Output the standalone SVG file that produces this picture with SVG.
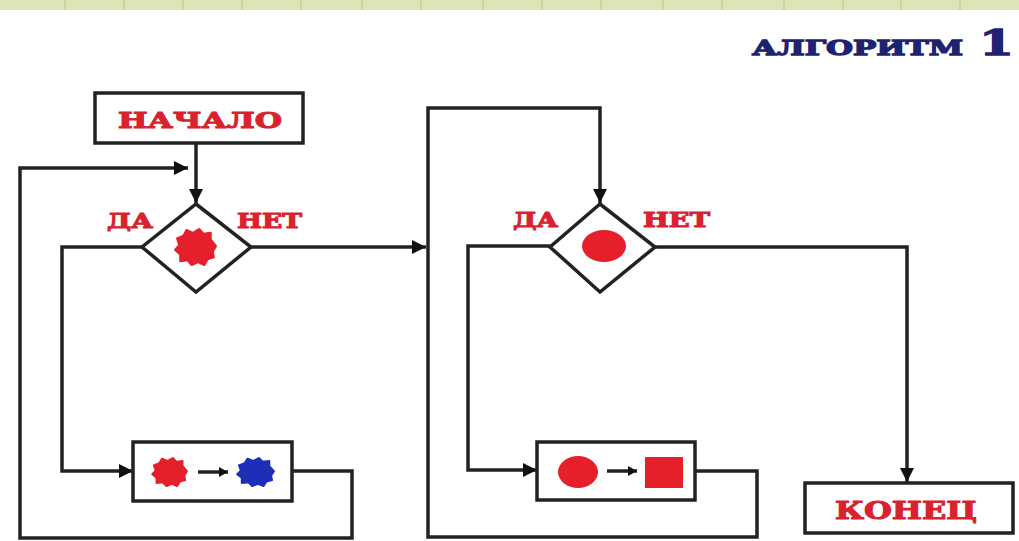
<svg xmlns="http://www.w3.org/2000/svg" width="1019" height="541" viewBox="0 0 1019 541">
<style>
.box{fill:#fff;stroke:#222;stroke-width:3.5}
.dia{fill:#fff;stroke:#222;stroke-width:3.5;stroke-linejoin:miter}
.ln{fill:none;stroke:#222;stroke-width:3.5;stroke-linejoin:miter}
.lbl{font-family:"DejaVu Serif","Liberation Serif",serif;font-weight:bold;fill:#d8232f;stroke:#d8232f;stroke-width:1.1}
.ttl{font-family:"DejaVu Serif","Liberation Serif",serif;font-weight:bold;fill:#1e2270;stroke:#1e2270;stroke-width:1.3}
.red{fill:#e5202a}
.blue{fill:#1d2fb8}
</style>
<defs>
<marker id="ah" markerUnits="userSpaceOnUse" markerWidth="16" markerHeight="16" refX="14" refY="7" orient="auto">
<path d="M0,0 L14,7 L0,14 z" fill="#111"/>
</marker>
<marker id="ahs" markerUnits="userSpaceOnUse" markerWidth="12" markerHeight="12" refX="9" refY="5" orient="auto">
<path d="M0,0 L9,5 L0,10 z" fill="#111"/>
</marker>
<path id="blob" d="M19,-1 L16,5 L17,11 L11,13 L8,19 L2,16 L-4,19 L-8,14 L-15,15 L-15,8 L-20,3 L-16,-2 L-18,-9 L-12,-12 L-9,-18 L-3,-15 L3,-19 L7,-14 L14,-15 L14,-8 Z" stroke-linejoin="round"/>
</defs>

<g id="topband">
<rect x="0" y="0" width="1019" height="10" fill="#dce5b6"/>
<g stroke="#c3cf92" stroke-width="1.5">
<line x1="65" y1="0" x2="65" y2="10"/><line x1="124" y1="0" x2="124" y2="10"/><line x1="183" y1="0" x2="183" y2="10"/><line x1="242" y1="0" x2="242" y2="10"/><line x1="301" y1="0" x2="301" y2="10"/><line x1="362" y1="0" x2="362" y2="10"/><line x1="421" y1="0" x2="421" y2="10"/><line x1="483" y1="0" x2="483" y2="10"/><line x1="542" y1="0" x2="542" y2="10"/><line x1="601" y1="0" x2="601" y2="10"/><line x1="663" y1="0" x2="663" y2="10"/><line x1="722" y1="0" x2="722" y2="10"/><line x1="784" y1="0" x2="784" y2="10"/><line x1="843" y1="0" x2="843" y2="10"/><line x1="901" y1="0" x2="901" y2="10"/><line x1="960" y1="0" x2="960" y2="10"/>
</g>
</g>

<g id="title">
<text class="ttl" x="752" y="55" font-size="21" textLength="211" lengthAdjust="spacingAndGlyphs">АЛГОРИТМ</text>
<text class="ttl" x="979" y="55" font-size="35" textLength="35" lengthAdjust="spacingAndGlyphs">1</text>
</g>

<g id="connectors">
<path class="ln" d="M196,143 L196,203" marker-end="url(#ah)"/>
<path class="ln" d="M251,247 L426,247" marker-end="url(#ah)"/>
<path class="ln" d="M142,247 L62,247 L62,471 L133,471" marker-end="url(#ah)"/>
<path class="ln" d="M292,471 L352,471 L352,538 L20,538 L20,168 L188,168" marker-end="url(#ah)"/>
<path class="ln" d="M695,471 L757,471 L757,537 L428,537 L428,108 L600,108 L600,203" marker-end="url(#ah)"/>
<path class="ln" d="M550,246 L468,246 L468,470 L537,470" marker-end="url(#ah)"/>
<path class="ln" d="M655,247 L907,247 L907,482" marker-end="url(#ah)"/>
</g>

<g id="start">
<rect class="box" x="95" y="93" width="208" height="50"/>
<text class="lbl" x="118" y="128" font-size="22" textLength="164" lengthAdjust="spacingAndGlyphs">НАЧАЛО</text>
</g>

<g id="decision1">
<polygon class="dia" points="196,204 251,247 196,292 142,247"/>
<use href="#blob" class="red" transform="translate(196,247) scale(1.05,0.95)" stroke="#e5202a" stroke-width="2"/>
<text class="lbl" x="107" y="228" font-size="21" textLength="46" lengthAdjust="spacingAndGlyphs">ДА</text>
<text class="lbl" x="237" y="228" font-size="21" textLength="65" lengthAdjust="spacingAndGlyphs">НЕТ</text>
</g>

<g id="action1">
<rect class="box" x="133" y="442" width="159" height="59"/>
<use href="#blob" class="red" transform="translate(170,472) scale(0.9,0.75)" stroke="#e5202a" stroke-width="2"/>
<line class="ln" x1="198" y1="472" x2="228" y2="472" marker-end="url(#ahs)"/>
<use href="#blob" class="blue" transform="translate(256,472) scale(0.95,0.75)" stroke="#1d2fb8" stroke-width="2"/>
</g>

<g id="decision2">
<polygon class="dia" points="600,204 655,247 600,292 550,247"/>
<ellipse class="red" cx="604" cy="246" rx="22" ry="16"/>
<text class="lbl" x="513" y="227" font-size="21" textLength="45" lengthAdjust="spacingAndGlyphs">ДА</text>
<text class="lbl" x="643" y="227" font-size="21" textLength="67" lengthAdjust="spacingAndGlyphs">НЕТ</text>
</g>

<g id="action2">
<rect class="box" x="537" y="442" width="158" height="58"/>
<ellipse class="red" cx="578" cy="472" rx="20" ry="16"/>
<line class="ln" x1="607" y1="471" x2="637" y2="471" marker-end="url(#ahs)"/>
<rect class="red" x="645" y="457" width="38" height="31"/>
</g>

<g id="end">
<rect class="box" x="805" y="483" width="208" height="50"/>
<text class="lbl" x="835" y="519" font-size="25" textLength="142" lengthAdjust="spacingAndGlyphs">КОНЕЦ</text>
</g>
</svg>
